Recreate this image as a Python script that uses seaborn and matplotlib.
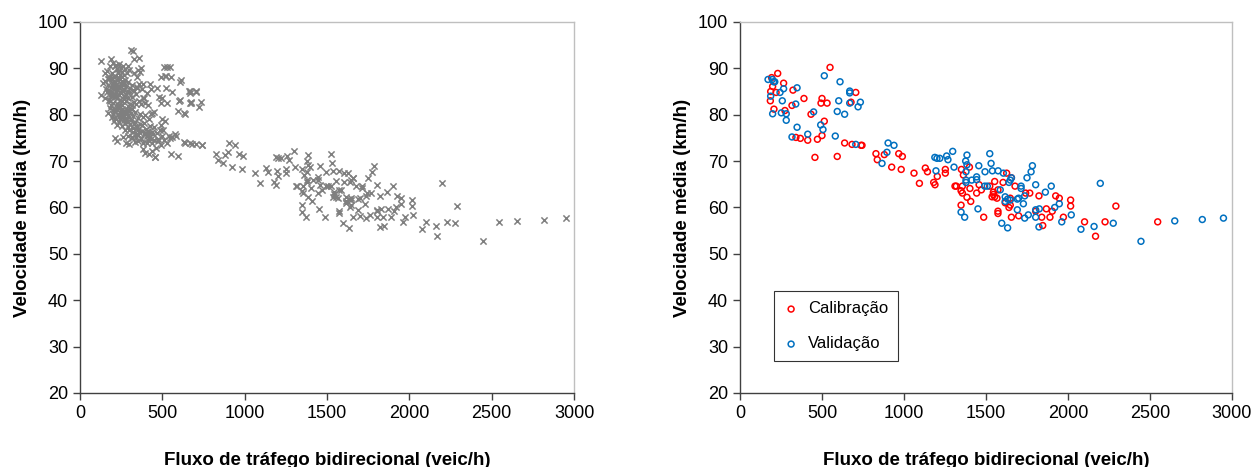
import matplotlib
matplotlib.use("Agg")
import matplotlib.pyplot as plt
import seaborn as sns

# ------------------------------
# Données : Calibração (vermelho) et Validação (azul)
calib_flow = [549, 230, 193, 199, 266, 187, 220, 185, 323, 390,
              500, 494, 531, 706, 677, 317, 207, 274, 433, 514,
              341, 368, 413, 472, 500, 638, 683, 738, 744, 457,
              593, 829, 837, 880, 968, 990, 925, 983, 1061, 1130,
              1143, 1203, 1252, 1252, 1350, 1362, 1399, 1094, 1181, 1189,
              1311, 1319, 1356, 1348, 1356, 1402, 1384, 1407, 1348, 1458,
              1472, 1443, 1523, 1553, 1545, 1545, 1537, 1553, 1567, 1573,
              1486, 1573, 1573, 1604, 1626, 1655, 1617, 1648, 1648, 1640,
              1655, 1699, 1677, 1742, 1767, 1803, 1823, 1840, 1846, 1868,
              1890, 1904, 1925, 1947, 1972, 2016, 2016, 2101, 2168, 2226,
              2292, 2547]
calib_speed = [90.2, 88.9, 88.0, 86.1, 86.8, 85.0, 84.8, 83.0, 85.3, 83.5,
               83.5, 82.5, 82.5, 84.8, 82.7, 82.0, 81.2, 80.9, 80.1, 78.6,
               75.1, 74.9, 74.5, 74.7, 75.5, 73.9, 73.6, 73.4, 73.4, 70.8,
               71.0, 71.6, 70.3, 71.4, 71.6, 71.0, 68.7, 68.2, 67.4, 68.5,
               67.7, 66.7, 68.2, 67.4, 68.2, 67.0, 68.7, 65.2, 65.4, 64.9,
               64.6, 64.6, 64.6, 63.6, 63.1, 64.1, 62.2, 61.3, 60.5, 64.9,
               63.8, 63.1, 64.6, 65.6, 63.3, 62.8, 62.3, 62.3, 62.0, 63.8,
               57.9, 59.2, 58.7, 65.4, 67.4, 66.4, 61.0, 62.0, 60.5, 60.0,
               57.9, 58.2, 64.6, 63.1, 63.1, 59.2, 62.5, 57.9, 56.1, 59.7,
               57.9, 59.2, 62.5, 62.0, 57.9, 61.6, 60.3, 56.9, 53.8, 56.9,
               60.3, 56.9]

valid_flow = [514, 171, 197, 205, 212, 610, 266, 244, 348, 187,
              258, 340, 669, 669, 602, 669, 734, 720, 199, 252,
              282, 282, 449, 593, 638, 492, 506, 348, 317, 413,
              581, 706, 903, 939, 896, 866, 1188, 1201, 1218, 1260,
              1268, 1297, 1384, 1376, 1384, 1305, 1195, 1456, 1523, 1531,
              1494, 1539, 1378, 1574, 1606, 1443, 1443, 1378, 1378, 1413,
              1492, 1508, 1348, 1370, 1451, 1596, 1632, 1640, 1648, 1655,
              1587, 1617, 1617, 1632, 1648, 1691, 1699, 1691, 1714, 1714,
              1728, 1736, 1750, 1736, 1758, 1775, 1783, 1803, 1803, 1803,
              1825, 1823, 1862, 1898, 1919, 1947, 1962, 2020, 2079, 2159,
              2197, 2276, 2445, 2651, 2819, 2948]
valid_speed = [88.4, 87.6, 87.6, 87.1, 87.1, 87.1, 85.6, 84.8, 85.8, 84.0,
               83.0, 82.3, 85.1, 84.7, 83.0, 82.5, 82.7, 81.7, 80.2, 80.4,
               80.2, 78.8, 80.6, 80.7, 80.1, 77.8, 76.8, 77.3, 75.2, 75.8,
               75.4, 73.6, 73.9, 73.4, 71.9, 69.5, 70.8, 70.6, 70.6, 71.1,
               70.3, 72.1, 71.3, 70.0, 69.2, 68.7, 67.9, 69.0, 71.6, 69.5,
               67.7, 67.9, 67.7, 67.9, 67.4, 66.6, 66.0, 65.9, 65.4, 65.9,
               64.6, 64.6, 59.0, 57.9, 59.7, 56.6, 55.6, 65.4, 65.9, 66.4,
               63.8, 62.3, 61.3, 61.8, 61.6, 61.8, 62.0, 59.5, 64.6, 64.1,
               60.8, 62.5, 66.4, 57.7, 58.4, 67.7, 69.0, 59.5, 57.9, 64.9,
               59.7, 55.8, 63.3, 64.6, 60.0, 60.8, 56.9, 58.4, 55.3, 55.9,
               65.2, 56.6, 52.7, 57.1, 57.4, 57.7]

# Points supplémentaires du graphique de gauche (nuage dense, faibles débits)
extra_flow = [130, 150, 165, 180, 190, 200, 210, 225, 240, 255,
              265, 285, 300, 215, 175, 235, 250, 330, 345, 365,
              370, 140, 155, 168, 178, 188, 198, 208, 218, 228,
              238, 248, 258, 268, 278, 290, 302, 315, 328, 345,
              360, 375, 160, 185, 225, 255, 300, 385, 410, 430,
              130, 150, 165, 178, 190, 200, 212, 222, 235, 245,
              256, 270, 282, 292, 305, 318, 330, 342, 356, 370,
              385, 398, 415, 240, 190, 290, 172, 185, 195, 205,
              215, 225, 232, 240, 248, 255, 262, 270, 278, 285,
              292, 300, 308, 316, 325, 335, 350, 365, 380, 398,
              420, 440, 260, 280, 295, 205, 222, 240, 258, 272,
              290, 305, 320, 335, 350, 362, 375, 388, 400, 412,
              425, 438, 452, 468, 320, 300, 345, 210, 225, 260,
              280, 300, 318, 335, 355, 372, 390, 405, 420, 435,
              448, 460, 475, 490, 510, 528, 545, 560, 395, 420,
              440, 455, 380, 307, 320, 331, 360, 355, 513, 530,
              525, 494, 554, 612, 559, 481, 428, 465, 525, 605,
              634, 663, 704, 675, 501, 488, 542, 578, 631, 670,
              554, 195, 205, 220, 232, 245, 260, 275, 290, 205,
              215, 230, 245, 262, 275, 285, 195, 210, 228, 250,
              265, 280, 230, 245, 265, 285, 300, 310, 330, 345,
              360, 375, 395, 410, 430, 445, 380, 350, 290, 275,
              255]
extra_speed = [91.5, 88.9, 89.5, 90.6, 92.0, 91.2, 90.4, 89.8, 90.9, 89.3,
               88.6, 88.9, 89.6, 88.4, 88.2, 88.0, 90.0, 89.0, 88.2, 89.3,
               90.0, 86.8, 87.2, 86.4, 87.8, 86.0, 86.9, 85.6, 86.3, 87.5,
               85.9, 86.8, 87.3, 85.4, 86.1, 87.0, 85.8, 86.5, 85.2, 86.0,
               86.6, 85.5, 85.5, 85.2, 85.4, 85.1, 84.9, 86.7, 84.7, 85.5,
               84.3, 83.6, 84.8, 83.2, 84.5, 82.6, 83.8, 82.4, 84.2, 83.1,
               82.2, 84.0, 82.9, 83.6, 82.3, 83.9, 82.7, 84.4, 83.0, 82.3,
               83.7, 82.6, 82.0, 82.0, 82.1, 81.8, 80.3, 81.5, 79.6, 80.8,
               79.2, 81.0, 80.2, 79.5, 80.7, 81.3, 79.9, 80.5, 79.3, 81.0,
               80.0, 79.6, 80.4, 81.2, 79.8, 80.6, 79.2, 80.2, 79.5, 80.0,
               79.0, 80.3, 80.6, 80.2, 80.8, 78.6, 77.8, 78.4, 77.6, 78.2,
               77.4, 78.0, 77.2, 78.5, 76.8, 77.9, 76.5, 78.2, 77.0, 76.4,
               77.6, 76.2, 77.3, 76.0, 76.3, 76.6, 75.8, 74.9, 74.4, 75.3,
               74.0, 73.6, 75.0, 74.2, 75.6, 74.8, 75.9, 74.0, 75.2, 73.8,
               74.6, 72.8, 74.3, 73.4, 74.5, 73.8, 75.0, 75.2, 71.7, 71.5,
               72.2, 70.8, 72.5, 94.0, 93.7, 92.1, 92.3, 89.7, 90.2, 90.3,
               88.4, 88.2, 88.1, 87.4, 85.0, 83.8, 86.6, 85.8, 85.7, 83.2,
               80.4, 85.1, 85.1, 82.6, 79.0, 76.8, 75.5, 75.8, 74.1, 74.0,
               71.6, 89.0, 88.2, 90.8, 89.3, 88.6, 90.4, 89.8, 90.5, 86.2,
               87.0, 86.0, 87.6, 86.3, 87.4, 85.0, 84.0, 84.5, 83.5, 84.6,
               83.3, 84.4, 81.6, 79.0, 78.8, 78.5, 81.0, 78.8, 78.0, 77.5,
               76.2, 77.7, 76.0, 75.5, 74.7, 75.8, 74.0, 74.3, 75.5, 76.6,
               79.4]

x_ticks = [0, 500, 1000, 1500, 2000, 2500, 3000]
y_ticks = [20, 30, 40, 50, 60, 70, 80, 90, 100]
x_label = "Fluxo de tráfego bidirecional (veic/h)"
y_label = "Velocidade média (km/h)"

# ------------------------------
sns.set_style("white")
plt.rcParams['font.family'] = ['Liberation Sans Narrow', 'Liberation Sans', 'DejaVu Sans']
plt.rcParams['text.color'] = 'black'
plt.rcParams['axes.labelcolor'] = 'black'
plt.rcParams['xtick.color'] = 'black'
plt.rcParams['ytick.color'] = 'black'

fig = plt.figure(figsize=(12.57, 4.67), dpi=100)
ax1 = fig.add_axes([0.0636, 0.1585, 0.3931, 0.7945])
ax2 = fig.add_axes([0.5887, 0.1585, 0.3914, 0.7945])

# Graphique de gauche : toutes les observations
all_flow = calib_flow + valid_flow + extra_flow
all_speed = calib_speed + valid_speed + extra_speed
sns.scatterplot(x=all_flow, y=all_speed, ax=ax1, marker='x', color='#7F7F7F',
                s=20, linewidth=1.1)

# Graphique de droite : calibração / validação
sns.scatterplot(x=calib_flow, y=calib_speed, ax=ax2, marker='o', s=18,
                facecolors='none', edgecolor='#FF0000', linewidth=1.1,
                label='Calibração')
sns.scatterplot(x=valid_flow, y=valid_speed, ax=ax2, marker='o', s=18,
                facecolors='none', edgecolor='#0070C0', linewidth=1.1,
                label='Validação')

for ax in (ax1, ax2):
    ax.set_xlim(0, 3000)
    ax.set_ylim(20, 100)
    ax.set_xticks(x_ticks)
    ax.set_yticks(y_ticks)
    ax.tick_params(axis='both', direction='out', length=5, width=1,
                   labelsize=13, bottom=True, left=True,
                   color='#404040', labelcolor='black')
    ax.spines['left'].set_color('#404040')
    ax.spines['bottom'].set_color('#404040')
    ax.spines['top'].set_color('#BFBFBF')
    ax.spines['right'].set_color('#BFBFBF')
    for s in ax.spines.values():
        s.set_linewidth(1.0)
    ax.set_xlabel(x_label, fontsize=13.5, fontweight='bold', labelpad=22)
    ax.set_ylabel(y_label, fontsize=13.5, fontweight='bold', labelpad=5)

leg = ax2.legend(loc='lower left', bbox_to_anchor=(0.07, 0.085), fontsize=12,
                 frameon=True, fancybox=False, edgecolor='black',
                 handletextpad=0.6, borderpad=0.6, labelspacing=1.2,
                 handlelength=0.8, borderaxespad=0.0)
leg.get_frame().set_linewidth(0.8)

fig.savefig("out.png", dpi=100)
